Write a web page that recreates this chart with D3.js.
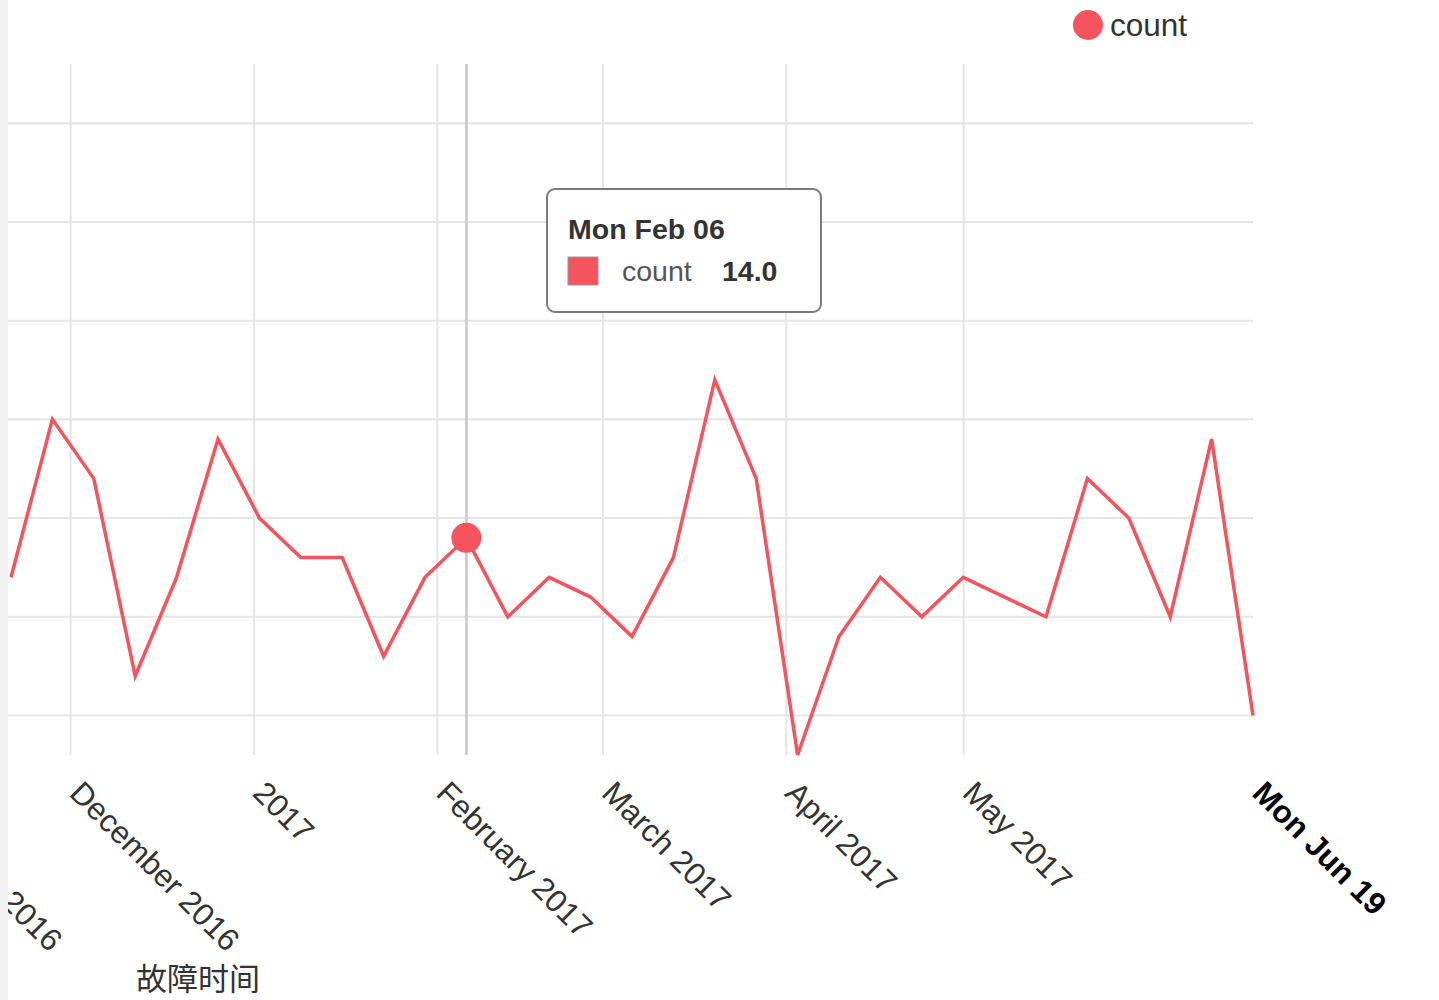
<!DOCTYPE html>
<html><head><meta charset="utf-8">
<script src="https://cdn.jsdelivr.net/npm/d3@7"></script>
<style>
html,body{margin:0;padding:0;background:#fff;overflow:hidden;}
svg{display:block;font-family:"Liberation Sans",Arial,"Noto Sans CJK SC",sans-serif;}
</style></head>
<body>
<svg id="chart" width="1439" height="1000"></svg>
<script>
// ---- data ----
const dates = ["2016-11-21","2016-11-28","2016-12-05","2016-12-12","2016-12-19","2016-12-26",
  "2017-01-02","2017-01-09","2017-01-16","2017-01-23","2017-01-30","2017-02-06","2017-02-13",
  "2017-02-20","2017-02-27","2017-03-06","2017-03-13","2017-03-20","2017-03-27","2017-04-03",
  "2017-04-10","2017-04-17","2017-04-24","2017-05-01","2017-05-08","2017-05-15","2017-05-22",
  "2017-05-29","2017-06-05","2017-06-12","2017-06-19"];
const counts = [12,20,17,7,12,19,15,13,13,8,12,14,10,12,11,9,13,22,17,3,9,12,10,12,11,10,17,15,10,19,5];
const tickDates = ["2016-11-01","2016-12-01","2017-01-01","2017-02-01","2017-03-01","2017-04-01","2017-05-01"];
const tickLabels = ["November 2016","December 2016","2017","February 2017","March 2017","April 2017","May 2017"];
const maxLabel = "Mon Jun 19";
const yTicks = [5,10,15,20,25,30,35];
const seriesName = "count";
const hoverDate = "2017-02-06";
const hoverTitle = "Mon Feb 06";
const xAxisTitle = "故障时间";

// ---- drawing ----
const parse = d3.timeParse("%Y-%m-%d");
const data = dates.map((d,i)=>({date:parse(d), value:counts[i]}));
const color = "#f5535d";
const svg = d3.select("#chart");
const plotTop = 64, plotBottom = 755, plotLeft = 8, plotRight = 1253;

const x = d3.scaleTime().domain(d3.extent(data, d=>d.date)).range([11, 1253]);
const y = d3.scaleLinear().domain([3, 38]).range([plotBottom, plotTop]);

// horizontal gridlines
svg.append("g").selectAll("line").data(yTicks).join("line")
  .attr("x1", plotLeft).attr("x2", plotRight)
  .attr("y1", d=>y(d)).attr("y2", d=>y(d))
  .attr("stroke", "#e5e5e5").attr("stroke-width", 2);

// x axis with gridlines
const allTicks = tickDates.map(parse).concat([x.domain()[1]]);
const allLabels = tickLabels.concat([maxLabel]);
const xAxis = d3.axisBottom(x).tickValues(allTicks)
  .tickFormat((d,i)=>allLabels[i]).tickSize(-(plotBottom-plotTop)).tickPadding(0);
const gx = svg.append("g").attr("transform", `translate(0,${plotBottom})`).call(xAxis);
gx.select(".domain").remove();
gx.selectAll(".tick line").attr("stroke", "#e5e5e5").attr("stroke-width", 2);
gx.selectAll(".tick").filter((d,i)=>i===allTicks.length-1).select("line").remove();
gx.selectAll(".tick text")
  .attr("fill", "#333").attr("font-size", 31.5)
  .attr("text-anchor", "start")
  .attr("x", 0).attr("y", 0).attr("dy", "0.3em")
  .attr("transform", "translate(4,33) rotate(45)");
gx.selectAll(".tick").filter((d,i)=>i===allTicks.length-1).select("text")
  .attr("font-weight", "bold").attr("fill", "#000");

// hover guideline
const hd = parse(hoverDate);
svg.append("line").attr("x1", x(hd)).attr("x2", x(hd))
  .attr("y1", plotTop).attr("y2", plotBottom)
  .attr("stroke", "#c8c8c8").attr("stroke-width", 2.5);

// line
svg.append("path").datum(data)
  .attr("fill", "none").attr("stroke", color).attr("stroke-width", 3.5)
  .attr("stroke-linejoin", "miter")
  .attr("d", d3.line().x(d=>x(d.date)).y(d=>y(d.value)));

// hover point
const hp = data.find(d=>+d.date===+hd);
svg.append("circle").attr("cx", x(hp.date)).attr("cy", y(hp.value)).attr("r", 15)
  .attr("fill", color);

// x axis title
svg.append("text").attr("x", 198).attr("y", 990).attr("text-anchor", "middle")
  .attr("font-size", 31).attr("fill", "#333").text(xAxisTitle);

// legend
const lg = svg.append("g").attr("transform", "translate(1088,25)");
lg.append("circle").attr("r", 15).attr("fill", color);
lg.append("text").attr("x", 22).attr("y", 11).attr("font-size", 31.5).attr("fill", "#333").text(seriesName);

// tooltip
const tt = svg.append("g").attr("transform", "translate(547,189)");
tt.append("rect").attr("width", 274).attr("height", 123).attr("rx", 8)
  .attr("fill", "#fff").attr("stroke", "#7a7a7a").attr("stroke-width", 2);
tt.append("text").attr("x", 21).attr("y", 50).attr("font-size", 28.5).attr("font-weight", "bold")
  .attr("fill", "#333").text(hoverTitle);
tt.append("rect").attr("x", 21).attr("y", 68).attr("width", 30).attr("height", 28)
  .attr("fill", color).attr("stroke", "#999").attr("stroke-width", 1);
tt.append("text").attr("x", 75).attr("y", 92).attr("font-size", 28.5).attr("fill", "#555").text(seriesName);
tt.append("text").attr("x", 175).attr("y", 92).attr("font-size", 28.5).attr("font-weight", "bold")
  .attr("fill", "#333").text(d3.format(".1f")(hp.value));

// left page strip
svg.append("rect").attr("x", 0).attr("y", 0).attr("width", 8).attr("height", 1000).attr("fill", "#f2f2f2");
</script>
</body></html>
